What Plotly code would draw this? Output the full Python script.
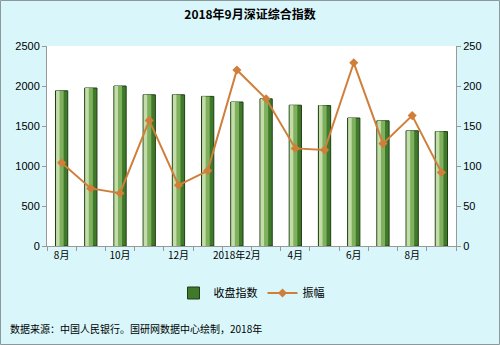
import plotly.graph_objects as go

months = ["8月", "9月", "10月", "11月", "12月", "1月", "2018年2月", "3月", "4月", "5月", "6月", "7月", "8月", "9月"]
close_idx = [1940, 1975, 2000, 1890, 1890, 1870, 1800, 1840, 1760, 1755, 1600, 1565, 1440, 1430]
amplitude = [104, 72, 66, 157, 76, 94, 220, 184, 122, 120, 229, 128, 163, 92]
tick_pos = [0, 2, 4, 6, 8, 10, 12]

x = list(range(len(months)))
font = "Liberation Sans, Noto Sans CJK SC, sans-serif"
cjk = "Noto Sans CJK SC, sans-serif"

fig = go.Figure()
# bar with pseudo gradient: dark base, mid layer, light highlight
fig.add_trace(go.Bar(x=x, y=close_idx, name="收盘指数", width=0.42, offset=-0.21,
                     marker=dict(color="#3f7a2a", line=dict(color="#1f3d14", width=1)),
                     showlegend=True, legendrank=1, hoverinfo="skip"))
fig.add_trace(go.Bar(x=x, y=close_idx, width=0.26, offset=-0.19,
                     marker=dict(color="#7fb05e", line=dict(width=0)), showlegend=False, hoverinfo="skip"))
fig.add_trace(go.Bar(x=x, y=close_idx, width=0.12, offset=-0.19,
                     marker=dict(color="#c3dcaa", line=dict(width=0)), showlegend=False, hoverinfo="skip"))
fig.add_trace(go.Scatter(x=x, y=amplitude, name="振幅", yaxis="y2", mode="lines+markers",
                         line=dict(color="#cf7f3a", width=2),
                         marker=dict(symbol="diamond", size=7, color="#cf7f3a"), legendrank=2))

W, H = 500, 345
l, r, t, b = 47, 44, 46, 99
pw, ph = W - l - r, H - t - b

fig.update_layout(
    width=W, height=H,
    margin=dict(l=l, r=r, t=t, b=b),
    paper_bgcolor="#d9f7fb", plot_bgcolor="#ffffff",
    barmode="overlay",
    title=dict(text="<b>2018年9月深证综合指数</b>", x=0.5, xanchor="center", y=1 - 15 / H, yanchor="middle",
               font=dict(family=cjk, size=12, color="#000000")),
    font=dict(family=font, size=11, color="#000000"),
    xaxis=dict(range=[-0.5, len(months) - 0.5], tickvals=tick_pos, ticktext=[months[i] for i in tick_pos],
               ticks="", showline=True, linecolor="#999999", linewidth=1, showgrid=False, zeroline=False,
               tickfont=dict(family=cjk, size=10),
               minor=dict(tick0=-0.5, dtick=1, ticks="outside", ticklen=4, tickcolor="#999999", showgrid=False)),
    yaxis=dict(range=[0, 2500], dtick=500, showline=True, linecolor="#999999", linewidth=1, ticks="outside",
               ticklen=4, tickcolor="#999999", showgrid=False, zeroline=False, tickfont=dict(size=11)),
    yaxis2=dict(range=[0, 250], dtick=50, overlaying="y", side="right", showline=True, linecolor="#999999",
                linewidth=1, ticks="outside", ticklen=4, tickcolor="#999999", showgrid=False, zeroline=False,
                tickfont=dict(size=11)),
    legend=dict(orientation="h", x=0.5, xanchor="center", y=-(293 - 246) / ph, yanchor="middle",
                bgcolor="rgba(0,0,0,0)", font=dict(family=cjk, size=11), itemwidth=30, traceorder="normal"),
    showlegend=True,
    annotations=[dict(text="数据来源：中国人民银行。国研网数据中心绘制，2018年", xref="paper", yref="paper",
                      x=-(l - 8) / pw, y=-(328 - 246) / ph, xanchor="left", yanchor="middle", showarrow=False,
                      font=dict(family=cjk, size=10, color="#000000"))],
    shapes=[dict(type="rect", xref="paper", yref="paper",
                 x0=-(l - 0.5) / pw, x1=1 + (r - 0.5) / pw, y0=-(b - 0.5) / ph, y1=1 + (t - 0.5) / ph,
                 line=dict(color="#8a9a9c", width=1), layer="below")],
)

fig.write_html("out.html")
